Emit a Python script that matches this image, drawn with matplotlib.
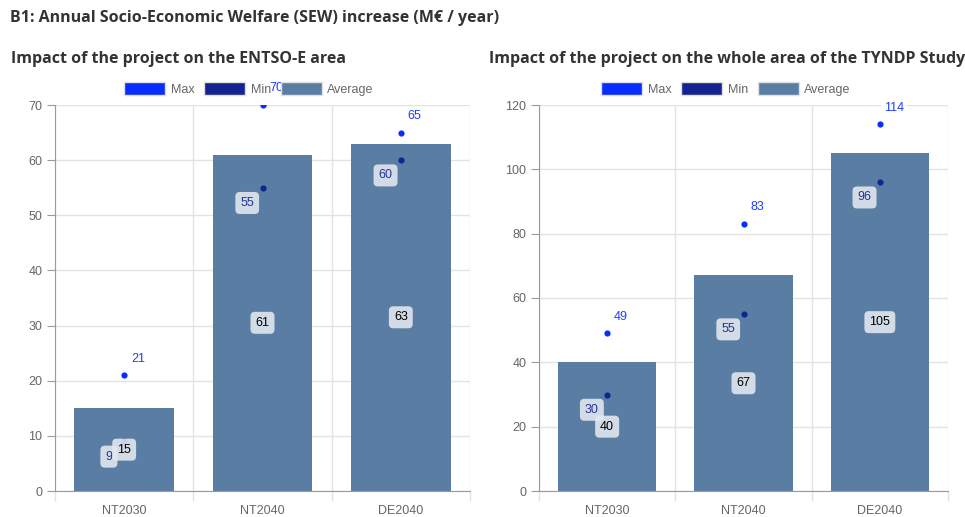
import matplotlib
matplotlib.use("Agg")
import matplotlib.pyplot as plt
from matplotlib.patches import Patch
import numpy as np

categories = ["NT2030", "NT2040", "DE2040"]

left_title = "Impact of the project on the ENTSO-E area"
left_max = [21, 70, 65]
left_min = [9, 55, 60]
left_avg = [15, 61, 63]
left_yticks = [0, 10, 20, 30, 40, 50, 60, 70]

right_title = "Impact of the project on the whole area of the TYNDP Study"
right_max = [49, 83, 114]
right_min = [30, 55, 96]
right_avg = [40, 67, 105]
right_yticks = [0, 20, 40, 60, 80, 100, 120]

header = "B1: Annual Socio-Economic Welfare (SEW) increase (M€ / year)"

MAX_C = "#0a2dff"
MIN_C = "#13238f"
AVG_C = "#5a7ea3"
GRID_C = "#e3e3e3"
AX_C = "#9a9a9a"
TICK_TXT = "#666666"
TICK_FONT = ["Liberation Sans", "DejaVu Sans"]
TITLE_FONT = ["Open Sans", "DejaVu Sans"]

W, H = 965, 517
fig = plt.figure(figsize=(W / 100, H / 100), dpi=100)


def px_rect(x0, x1, ytop, ybot):
    return [x0 / W, 1 - ybot / H, (x1 - x0) / W, (ybot - ytop) / H]


def draw(ax, vmax, vmin, vavg, yticks):
    x = np.arange(len(categories))
    ax.bar(x, vavg, width=0.72, color=AVG_C, zorder=2)
    ax.scatter(x, vmax, s=20, color=MAX_C, zorder=4, linewidths=0)
    ax.scatter(x, vmin, s=20, color=MIN_C, zorder=4, linewidths=0)
    for xi, v in zip(x, vmax):
        ax.annotate(str(v), (xi, v), xytext=(10, 12), textcoords="offset points",
                    ha="center", va="center", fontsize=9, color="#1f3dff",
                    family=TICK_FONT, zorder=6, annotation_clip=False,
                    bbox=dict(boxstyle="round,pad=0.25,rounding_size=0.3",
                              fc="white", ec="none", alpha=0.85))
    for xi, v in zip(x, vmin):
        ax.annotate(str(v), (xi, v), xytext=(-11, -11), textcoords="offset points",
                    ha="center", va="center", fontsize=9, color="#24349a",
                    family=TICK_FONT, zorder=6,
                    bbox=dict(boxstyle="round,pad=0.4,rounding_size=0.35",
                              fc="#e4e9f0", ec="none", alpha=0.88))
    for xi, v in zip(x, vavg):
        ax.annotate(str(v), (xi, v / 2), xytext=(0, 0), textcoords="offset points",
                    ha="center", va="center", fontsize=9, color="black",
                    family=TICK_FONT, zorder=7,
                    bbox=dict(boxstyle="round,pad=0.4,rounding_size=0.35",
                              fc="#e4e9f0", ec="none", alpha=0.88))
    ax.set_xlim(-0.5, len(categories) - 0.5)
    ax.set_ylim(yticks[0], yticks[-1])
    ax.set_yticks(yticks)
    ax.set_xticks(x)
    ax.set_xticklabels(categories)
    ax.set_xticks(np.arange(-0.5, len(categories)), minor=True)
    ax.tick_params(axis="x", which="major", length=0, pad=10, labelsize=9,
                   labelcolor=TICK_TXT)
    ax.tick_params(axis="x", which="minor", length=7, color=GRID_C, width=1)
    ax.tick_params(axis="y", length=6, color=AX_C, labelsize=9,
                   labelcolor=TICK_TXT, pad=3)
    for lab in ax.get_xticklabels() + ax.get_yticklabels():
        lab.set_family(TICK_FONT)
    ax.grid(axis="y", color=GRID_C, lw=1, zorder=0)
    ax.grid(axis="x", which="minor", color=GRID_C, lw=1, zorder=0)
    ax.grid(axis="x", which="major", visible=False)
    ax.set_axisbelow(True)
    for s in ["top", "right"]:
        ax.spines[s].set_visible(False)
    ax.spines["left"].set_color(AX_C)
    ax.spines["bottom"].set_color(AX_C)


def legend(cx):
    handles = [Patch(fc=MAX_C, ec="#e0e0e0", lw=1, label="Max"),
               Patch(fc=MIN_C, ec="#e0e0e0", lw=1, label="Min"),
               Patch(fc=AVG_C, ec="#e0e0e0", lw=1, label="Average")]
    leg = fig.legend(handles=handles, loc="center", bbox_to_anchor=(cx / W, 1 - 89 / H),
                     ncol=3, frameon=False, handlelength=3.3, handleheight=1.25,
                     handletextpad=0.45, columnspacing=0.75,
                     prop={"family": TICK_FONT, "size": 9})
    for t in leg.get_texts():
        t.set_color(TICK_TXT)


ax1 = fig.add_axes(px_rect(55, 470, 105, 491))
draw(ax1, left_max, left_min, left_avg, left_yticks)
ax2 = fig.add_axes(px_rect(539, 948, 105, 491))
draw(ax2, right_max, right_min, right_avg, right_yticks)

legend(249)
legend(726)

fig.text(10 / W, 1 - 18 / H, header, ha="left", va="center", fontsize=11.5,
         fontweight="bold", color="#333333", family=TITLE_FONT)
fig.text(11 / W, 1 - 59 / H, left_title, ha="left", va="center", fontsize=11.5,
         fontweight="bold", color="#333333", family=TITLE_FONT)
fig.text(489 / W, 1 - 59 / H, right_title, ha="left", va="center", fontsize=11.5,
         fontweight="bold", color="#333333", family=TITLE_FONT)

fig.savefig("out.png", dpi=100)
